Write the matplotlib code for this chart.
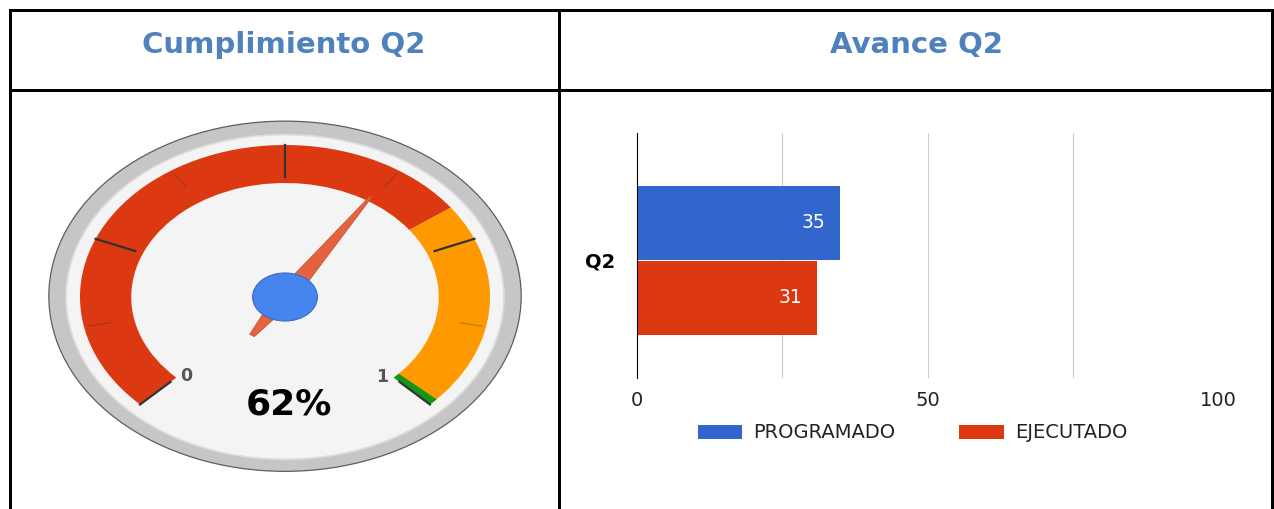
import numpy as np
import matplotlib
matplotlib.use("Agg")
import matplotlib.pyplot as plt
from matplotlib.patches import Wedge, Circle, Polygon

# gauge data
gauge_value = 0.62
gauge_label = "62%"
red_range = (0.0, 0.70)
yellow_range = (0.70, 1.0)
green_range = (0.99, 1.0)
major_ticks = [0.0, 0.25, 0.5, 0.75, 1.0]
minor_ticks = [0.125, 0.375, 0.625, 0.875]
end_labels = ["0", "1"]

# bar chart data
quarter = "Q2"
series = ["PROGRAMADO", "EJECUTADO"]
values = [35, 31]
series_colors = ["#3366cc", "#dc3912"]
x_major = [0, 50, 100]
x_minor = [25, 75]

titles = ["Cumplimiento Q2", "Avance Q2"]
title_color = "#4f81bd"

W, H = 1274, 509
fig = plt.figure(figsize=(W / 100, H / 100), dpi=100)

# table frame drawn in pixel coordinates
frame = fig.add_axes([0, 0, 1, 1])
frame.set_xlim(0, W)
frame.set_ylim(H, 0)
frame.axis("off")
lw = 3 * 72 / 100
for xs, ys in [((9.5, 1272), (9.5, 9.5)),
               ((9.5, 9.5), (9.5, H)),
               ((1272, 1272), (9.5, H)),
               ((558.5, 558.5), (9.5, H)),
               ((9.5, 1272), (89.5, 89.5))]:
    frame.plot(xs, ys, color="black", lw=lw, solid_capstyle="projecting")
frame.text(284, 53, titles[0], ha="center", va="baseline", fontsize=21,
           fontweight="bold", color=title_color)
frame.text(916, 53, titles[1], ha="center", va="baseline", fontsize=21,
           fontweight="bold", color=title_color)

# gauge: unit circle stretched horizontally by the axes limits
cx, cy, sx, sy = 285, 297, 205, 152
gx0, gx1, gy0, gy1 = 11, 557, 91, H
gax = fig.add_axes([gx0 / W, 1 - gy1 / H, (gx1 - gx0) / W, (gy1 - gy0) / H])
gax.set_xlim((gx0 - cx) / sx, (gx1 - cx) / sx)
gax.set_ylim((cy - gy1) / sy, (cy - gy0) / sy)
gax.axis("off")


def ang(v):
    return 225 - 270 * v


gax.add_patch(Circle((0, 0.005), 1.152, facecolor="#c6c6c6", edgecolor="#5e5e5e", lw=0.9))
gax.add_patch(Circle((0, 0), 1.068, facecolor="#f4f4f4", edgecolor="#dcdcdc", lw=1.2))

for (v0, v1), col in [(red_range, "#dc3912"), (yellow_range, "#ff9900"),
                      (green_range, "#109618")]:
    gax.add_patch(Wedge((0, 0), 1.0, ang(v1), ang(v0), width=0.25,
                        facecolor=col, edgecolor="none"))

for v in major_ticks:
    a = np.radians(ang(v))
    gax.plot([0.79 * np.cos(a), 1.0 * np.cos(a)], [0.79 * np.sin(a), 1.0 * np.sin(a)],
             color="#333333", lw=1.6)
for v in minor_ticks:
    a = np.radians(ang(v))
    gax.plot([0.87 * np.cos(a), 0.98 * np.cos(a)], [0.87 * np.sin(a), 0.98 * np.sin(a)],
             color="#333333", lw=0.8, alpha=0.35)

for v, lab in zip([0.0, 1.0], end_labels):
    a = np.radians(ang(v) + (2 if v == 0 else -3))
    gax.text(0.71 * np.cos(a), 0.71 * np.sin(a), lab, ha="center", va="center",
             fontsize=12.5, fontweight="bold", color="#555555")

gax.text(0.02, -0.776, gauge_label, ha="center", va="baseline", fontsize=26,
         fontweight="bold", color="black")

# needle
a = np.radians(ang(gauge_value))
d = np.array([np.cos(a), np.sin(a)])
n = np.array([-np.sin(a), np.cos(a)])
pts = [0.78 * d + 0.006 * n, 0.05 * n, -0.30 * d + 0.014 * n,
       -0.30 * d - 0.014 * n, -0.05 * n, 0.78 * d - 0.006 * n]
gax.add_patch(Polygon(pts, closed=True, facecolor="#e4623f", edgecolor="#c8502f", lw=0.5))
gax.add_patch(Circle((0, 0), 0.158, facecolor="#4684ee", edgecolor="#3a6bc0", lw=0.8))

# bar chart
bax = fig.add_axes([637 / W, 1 - 378 / H, (1218 - 637) / W, (378 - 133) / H])
bax.set_xlim(0, 100)
bax.set_ylim(-0.48, 0.52)
offsets = [0.153, -0.153]
for val, off, col, name in zip(values, offsets, series_colors, series):
    bax.barh(off, val, height=0.303, color=col, label=name, zorder=3)
    bax.annotate(str(val), (val, off), xytext=(-11, 0), textcoords="offset points",
                 ha="right", va="center", color="white", fontsize=13.5, zorder=4)

bax.set_xticks(x_major)
bax.set_xticks(x_minor, minor=True)
bax.set_xticklabels([str(v) for v in x_major])
bax.grid(True, axis="x", which="both", color="#cccccc", lw=0.8, zorder=0)
bax.tick_params(axis="x", which="both", length=0, pad=9, labelsize=14, labelcolor="#222222")
bax.set_yticks([0])
bax.set_yticklabels([quarter], fontweight="bold", fontsize=14)
bax.tick_params(axis="y", length=0, pad=16)
for s in ["top", "right", "bottom"]:
    bax.spines[s].set_visible(False)
bax.spines["left"].set_color("black")
bax.spines["left"].set_linewidth(0.8)
bax.spines["left"].set_zorder(5)

bax.legend(loc="center", bbox_to_anchor=(912.5 / W, 1 - 433 / H),
           bbox_transform=fig.transFigure, ncol=2, frameon=False, fontsize=14,
           handlelength=2.3, handleheight=0.75, handletextpad=0.55, columnspacing=3.3,
           labelcolor="#222222")

fig.savefig("out.png", dpi=100)
